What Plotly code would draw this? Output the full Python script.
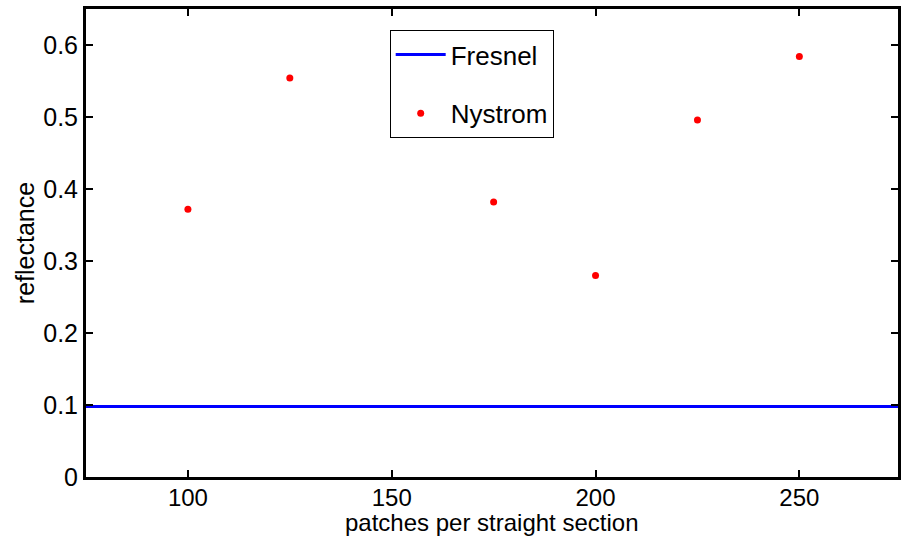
import plotly.graph_objects as go

# Reflectance computed with the Nystrom method vs. patch count
patches = [100, 125, 175, 200, 225, 250]
nystrom = [0.372, 0.554, 0.382, 0.280, 0.496, 0.584]

# Analytic Fresnel reflectance (constant)
fresnel_x = [75, 275]
fresnel_y = [0.098, 0.098]

x_ticks = [100, 150, 200, 250]
y_ticks = [0, 0.1, 0.2, 0.3, 0.4, 0.5, 0.6]

FONT = "Liberation Sans, Arial, Helvetica, sans-serif"

fig = go.Figure()
fig.add_trace(go.Scatter(
    x=fresnel_x, y=fresnel_y, mode="lines", name="Fresnel",
    line=dict(color="#0000ff", width=3), legendgroup="a",
))
fig.add_trace(go.Scatter(
    x=patches, y=nystrom, mode="markers", name="Nystrom",
    marker=dict(color="#ff0000", size=7, symbol="circle"), legendgroup="b",
))

axis_common = dict(
    showline=True, linecolor="black", linewidth=3, mirror="ticks",
    ticks="inside", ticklen=7, tickwidth=2, tickcolor="black",
    showgrid=False, zeroline=False,
)

fig.update_xaxes(range=[75, 274.2], tickvals=x_ticks, ticklabelstandoff=-3,
                 tickfont=dict(family=FONT, size=24, color="black"),
                 **axis_common)
fig.update_yaxes(
    range=[0, 0.65], tickvals=y_ticks,
    tickfont=dict(family=FONT, size=25, color="black"),
    title=dict(text="reflectance",
               font=dict(family=FONT, size=25, color="black"), standoff=2),
    **axis_common,
)

# x-axis title placed just under the tick labels
fig.add_annotation(
    text="patches per straight section", xref="paper", yref="paper",
    x=0.5, y=0, xanchor="center", yanchor="top", yshift=-30,
    showarrow=False, font=dict(family=FONT, size=24, color="black"),
)

fig.update_layout(
    width=901, height=538,
    margin=dict(l=86, r=0, t=9, b=61),
    paper_bgcolor="white", plot_bgcolor="white",
    showlegend=True,
    legend=dict(
        x=0.374, y=0.955, xanchor="left", yanchor="top",
        bordercolor="black", borderwidth=1, bgcolor="white",
        font=dict(family=FONT, size=26, color="black"),
        tracegroupgap=22, traceorder="grouped", itemwidth=50,
        entrywidth=200,
    ),
)

fig.write_html("out.html")
